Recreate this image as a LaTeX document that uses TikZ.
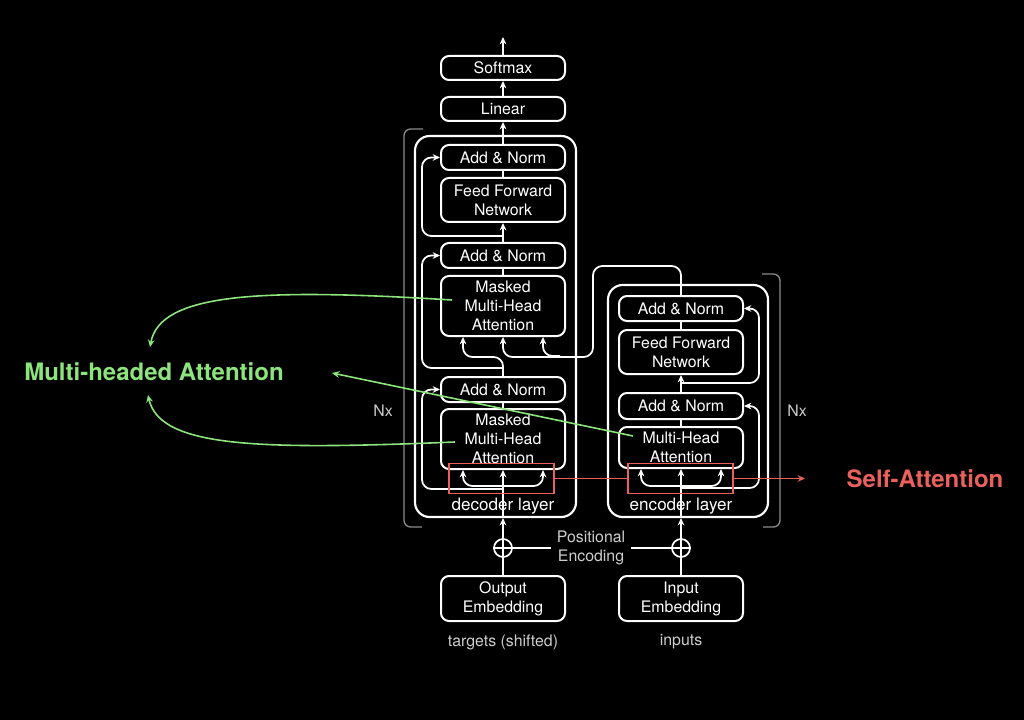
\documentclass[tikz,border=0pt]{standalone}
\usepackage{fontspec}
\setmainfont{TeX Gyre Heros}
\usetikzlibrary{positioning,calc,arrows.meta}
\tikzset{>={Stealth[length=5.5pt,width=5pt]}}
\definecolor{attgreen}{RGB}{141,228,125}
\definecolor{attred}{RGB}{234,96,92}
\definecolor{dimgray}{RGB}{140,140,140}
\definecolor{softwhite}{RGB}{205,205,205}
\newcommand*{\boxfont}{\fontsize{11.9}{14.25}\selectfont}
\newcommand*{\tagfont}{\fontsize{18}{20}\selectfont\bfseries}

\begin{document}
\begin{tikzpicture}[x=0.75pt,y=-0.75pt,
  block/.style={draw=white,line width=1.5pt,rounded corners=6pt,minimum width=93pt,inner sep=0pt,align=center,text=white,font=\boxfont},
  layer/.style={draw=white,line width=1.6pt,rounded corners=11pt,inner sep=0pt},
  wire/.style={white,line width=1.3pt},
  res/.style={wire,->,rounded corners=7pt},
  brace/.style={dimgray,line width=1pt,rounded corners=5pt},
  note/.style={text=softwhite,font=\boxfont,align=center,inner sep=1pt},
  sabox/.style={draw=attred,line width=1.4pt,minimum width=78.75pt,minimum height=22.5pt,inner sep=0pt},
  gline/.style={attgreen,line width=1.2pt,->}]
\fill[black] (0,0) rectangle (1024,720);
% Outer layers
\node[layer,minimum width=120.75pt,minimum height=285.75pt] (dec) at (495.5,326.5) {};
\node[layer,minimum width=120pt,minimum height=174pt] (enc) at (688,401) {};
\node[text=white,font=\fontsize{12.8}{14}\selectfont] (dec_lbl) at (503,506) {decoder layer};
\node[text=white,font=\fontsize{12.8}{14}\selectfont] (enc_lbl) at (681,506) {encoder layer};
% Decoder blocks
\node[block,minimum height=18pt] (softmax) at (503,68) {Softmax};
\node[block,minimum height=18pt] (linear) at (503,109) {Linear};
\node[block,minimum height=18.75pt] (dec_an3) at (503,157.5) {Add \& Norm};
\node[block,minimum height=33pt] (dec_ffn) at (503,200) {Feed Forward\\Network};
\node[block,minimum height=18.75pt] (dec_an2) at (503,255.5) {Add \& Norm};
\node[block,minimum height=45pt] (dec_mha2) at (503,306) {Masked\\Multi-Head\\Attention};
\node[block,minimum height=18.75pt] (dec_an1) at (503,389.5) {Add \& Norm};
\node[block,minimum height=45pt] (dec_mha1) at (503,439) {Masked\\Multi-Head\\Attention};
% Encoder blocks
\node[block,minimum height=18.75pt] (enc_an2) at (681,308.5) {Add \& Norm};
\node[block,minimum height=33pt] (enc_ffn) at (681,352) {Feed Forward\\Network};
\node[block,minimum height=19.5pt] (enc_an1) at (681,406) {Add \& Norm};
\node[block,minimum height=30.75pt] (enc_mha) at (681,447.5) {Multi-Head\\Attention};
% Embeddings and positional encoding
\node[block,minimum height=33.75pt] (out_emb) at (503,598.5) {Output\\Embedding};
\node[block,minimum height=33.75pt] (in_emb) at (681,598.5) {Input\\Embedding};
\node[draw=white,circle,line width=1.3pt,minimum size=13.5pt,inner sep=0pt] (dec_pe) at (503,548) {};
\node[draw=white,circle,line width=1.3pt,minimum size=13.5pt,inner sep=0pt] (enc_pe) at (681,548) {};
\draw[wire] (dec_pe.north) -- (dec_pe.south) (dec_pe.west) -- (dec_pe.east);
\draw[wire] (enc_pe.north) -- (enc_pe.south) (enc_pe.west) -- (enc_pe.east);
\node[note,inner sep=4pt] (posenc) at (591,548) {Positional\\Encoding};
\draw[wire] (dec_pe.east) -- (posenc.west);
\draw[wire] (posenc.east) -- (enc_pe.west);
\draw[wire] (out_emb.north) -- (dec_pe.south);
\draw[wire] (in_emb.north) -- (enc_pe.south);
\coordinate (dec_in) at (dec_mha1.south |- dec.south);
\coordinate (enc_in) at (enc_mha.south |- enc.south);
\draw[wire,->] (dec_pe.north) -- (dec_in);
\draw[wire,->] (enc_pe.north) -- (enc_in);
\node[note] (targets) at (503,642) {targets (shifted)};
\node[note] (inputs) at (681,642) {inputs};
% Decoder wiring, bottom sublayer
\coordinate (dec_q1) at ($(dec_mha1.south)+(-40,0)$);
\coordinate (dec_v1) at ($(dec_mha1.south)+(40,0)$);
\coordinate (dec_j1) at (503,486);
\coordinate (dec_r1) at (503,489);
\draw[wire,->] (dec_in) -- (dec_mha1.south);
\draw[wire,<->,rounded corners=7pt] (dec_q1) |- (dec_j1) -| (dec_v1);
\draw[res] (dec_r1) -| ($(dec_an1.west)+(-18,0)$) -- (dec_an1.west);
\draw[wire] (dec_mha1.north) -- (dec_an1.south);
% Decoder wiring, middle sublayer
\coordinate (dec_q2) at ($(dec_mha2.south)+(-40,0)$);
\coordinate (dec_v2) at ($(dec_mha2.south)+(40,0)$);
\coordinate (dec_r2) at (503,368);
\coordinate (dec_bend) at (593,266);
\coordinate (dec_kv) at (560,356);
\draw[res] (dec_an1.north) |- ($(dec_q2)+(0,20)$) -- (dec_q2);
\draw[res] (dec_r2) -| ($(dec_an2.west)+(-18,0)$) -- (dec_an2.west);
\draw[res] (enc_an2.north) |- (dec_bend) |- ($(dec_mha2.south)+(0,20)$) -- (dec_mha2.south);
\draw[res] (dec_kv) -| (dec_v2);
\draw[wire] (dec_mha2.north) -- (dec_an2.south);
% Decoder wiring, top sublayer
\coordinate (dec_r3) at (503,236);
\draw[wire,->] (dec_an2.north) -- (dec_ffn.south);
\draw[res] (dec_r3) -| ($(dec_an3.west)+(-18,0)$) -- (dec_an3.west);
\draw[wire] (dec_ffn.north) -- (dec_an3.south);
\coordinate (probs) at (503,37);
\draw[wire,->] (dec_an3.north) -- (linear.south);
\draw[wire,->] (linear.north) -- (softmax.south);
\draw[wire,->] (softmax.north) -- (probs);
% Encoder wiring
\coordinate (enc_q1) at ($(enc_mha.south)+(-40,0)$);
\coordinate (enc_v1) at ($(enc_mha.south)+(40,0)$);
\coordinate (enc_j1) at (681,486);
\coordinate (enc_r1) at (681,488);
\coordinate (enc_r2) at (681,383);
\draw[wire,->] (enc_in) -- (enc_mha.south);
\draw[wire,<->,rounded corners=7pt] (enc_q1) |- (enc_j1) -| (enc_v1);
\draw[res] (enc_r1) -| ($(enc_an1.east)+(15,0)$) -- (enc_an1.east);
\draw[wire] (enc_mha.north) -- (enc_an1.south);
\draw[wire,->] (enc_an1.north) -- (enc_ffn.south);
\draw[res] (enc_r2) -| ($(enc_an2.east)+(15,0)$) -- (enc_an2.east);
\draw[wire] (enc_ffn.north) -- (enc_an2.south);
% Nx brackets
\draw[brace] (423,129) -| (404,527) -- (422,527);
\draw[brace] (762,274) -| (780,527) -- (763,527);
\node[note] (dec_nx) at (383,411) {Nx};
\node[note] (enc_nx) at (797,411) {Nx};
% Self-attention marks
\node[sabox] (dec_sa) at (501.5,478.5) {};
\node[sabox] (enc_sa) at (680.5,478.5) {};
\coordinate (sa_tip) at (805,478.5);
\draw[attred,line width=1.4pt] (dec_sa.east) -- (enc_sa.west);
\draw[attred,line width=1.4pt,->] (enc_sa.east) -- (sa_tip);
\node[text=attred,font=\tagfont] (sa_lbl) at (925,479) {Self-Attention};
% Multi-headed attention pointers
\node[text=attgreen,font=\tagfont] (mha_lbl) at (154,372) {Multi-headed Attention};
\coordinate (g_top) at (150,347);
\coordinate (g_bot) at (148,395);
\coordinate (g_mid) at (332,373);
\coordinate (g_dec2) at (452,300);
\coordinate (g_dec1) at (455,442);
\coordinate (g_enc) at (633,436);
\draw[gline] (g_dec2) .. controls (260,288) and (160,293) .. (g_top);
\draw[gline] (g_dec1) .. controls (260,450) and (160,448) .. (g_bot);
\draw[gline] (g_enc) -- (g_mid);
\end{tikzpicture}
\end{document}
